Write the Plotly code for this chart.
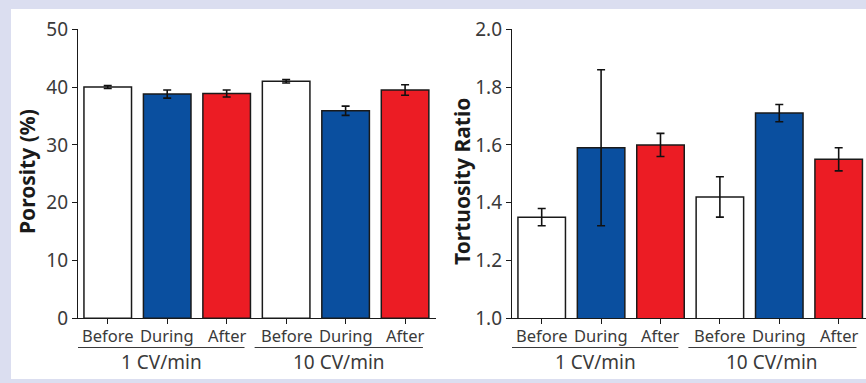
import plotly.graph_objects as go

W, H = 866, 383

categories = ["Before", "During", "After", "Before", "During", "After"]
groups = ["1 CV/min", "10 CV/min"]
colors = ["#ffffff", "#0a4f9f", "#ec1c24", "#ffffff", "#0a4f9f", "#ec1c24"]

porosity = [40.0, 38.8, 38.9, 41.0, 35.9, 39.5]
porosity_err = [0.25, 0.7, 0.6, 0.3, 0.8, 0.9]

tortuosity = [1.35, 1.59, 1.60, 1.42, 1.71, 1.55]
tortuosity_err = [0.03, 0.27, 0.04, 0.07, 0.03, 0.04]

xpos = list(range(len(categories)))

FONT = "Noto Sans"
TXT = "#3a3a3a"

def px(x):
    return x / W

def py(y):
    return 1 - y / H

fig = go.Figure()

for vals, errs, xa, ya in [(porosity, porosity_err, "x", "y"),
                           (tortuosity, tortuosity_err, "x2", "y2")]:
    fig.add_trace(go.Bar(
        x=xpos, y=vals, xaxis=xa, yaxis=ya, width=0.8,
        marker=dict(color=colors, line=dict(color="#1a1a1a", width=1.5)),
        error_y=dict(type="data", array=errs, color="#111111", thickness=1.6, width=4),
        showlegend=False, hoverinfo="skip",
    ))

axis_common = dict(
    showgrid=False, zeroline=False, showline=True, linecolor="#1a1a1a", linewidth=1.3,
    ticks="outside", ticklen=5, tickcolor="#1a1a1a", tickwidth=1.3, automargin=False,
)

fig.update_layout(
    width=W, height=H,
    margin=dict(l=0, r=0, t=0, b=0, pad=0),
    paper_bgcolor="#dbdef0",
    plot_bgcolor="rgba(0,0,0,0)",
    font=dict(family=FONT, color=TXT),
    xaxis=dict(domain=[px(78), px(436)], range=[-0.5, 5.52], anchor="y",
               tickvals=xpos, showticklabels=False, **axis_common),
    yaxis=dict(domain=[py(318.3), py(29.3)], range=[0, 50], anchor="x",
               tickvals=[0, 10, 20, 30, 40, 50],
               tickfont=dict(size=19, color=TXT), **axis_common),
    xaxis2=dict(domain=[px(512), 1.0], range=[-0.5, 5.46], anchor="y2",
                tickvals=xpos, showticklabels=False, **axis_common),
    yaxis2=dict(domain=[py(318.3), py(29.3)], range=[1.0, 2.0], anchor="x2",
                tickvals=[1.0, 1.2, 1.4, 1.6, 1.8, 2.0], tickformat=".1f",
                tickfont=dict(size=19, color=TXT), **axis_common),
)

shapes = [dict(type="rect", xref="paper", yref="paper",
               x0=px(11), x1=1.0, y0=py(379), y1=py(9),
               fillcolor="#ffffff", line=dict(width=0), layer="below")]
annotations = [
    dict(xref="paper", yref="paper", x=px(27), y=py(172), text="<b>Porosity (%)</b>",
         textangle=-90, showarrow=False, xanchor="center", yanchor="middle",
         font=dict(size=21, color="#1a1a1a", family=FONT)),
    dict(xref="paper", yref="paper", x=px(462), y=py(182), text="<b>Tortuosity Ratio</b>",
         textangle=-90, showarrow=False, xanchor="center", yanchor="middle",
         font=dict(size=21, color="#1a1a1a", family=FONT)),
]
spans = [(-0.5, 2.3), (2.47, 5.3)]
for xr in ["x", "x2"]:
    for xv, c in zip(xpos, categories):
        annotations.append(dict(xref=xr, yref="paper", x=xv, y=py(335),
                                text=c, showarrow=False, yanchor="middle",
                                font=dict(size=16.5, color=TXT, family=FONT)))
    for (a, b), g in zip(spans, groups):
        shapes.append(dict(type="line", xref=xr, yref="paper",
                           x0=a, x1=b, y0=py(347.5), y1=py(347.5),
                           line=dict(color="#3a3a3a", width=1.2)))
        annotations.append(dict(xref=xr, yref="paper", x=(a + b) / 2, y=py(362),
                                text=g, showarrow=False, yanchor="middle",
                                font=dict(size=19, color=TXT, family=FONT)))

fig.update_layout(shapes=shapes, annotations=annotations)

fig.write_html("out.html", config={"displayModeBar": False},
               post_script="document.body.style.margin='0';")
